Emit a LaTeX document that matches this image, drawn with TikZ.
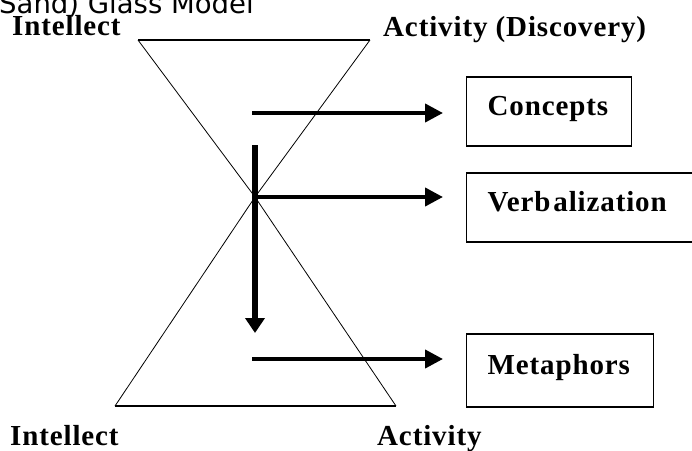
\documentclass[tikz,border=0pt]{standalone}
\usepackage{fontspec}
\setmainfont{Liberation Serif}
\newfontfamily\lblfont[LetterSpace=3]{Liberation Serif}
\newfontfamily\titlefont{DejaVu Sans}
\usetikzlibrary{arrows.meta}
\begin{document}
\begin{tikzpicture}[x=1pt,y=-1pt,
  lbl/.style={font=\lblfont\bfseries\fontsize{29}{31}\selectfont, inner sep=0pt},
  box/.style={draw, line width=1.3pt, anchor=west, inner xsep=21pt, inner ysep=0pt,
    text height=18pt, text depth=10pt, align=left,
    font=\lblfont\bfseries\fontsize{29}{31}\selectfont},
  glass/.style={line width=0.8pt},
  rim/.style={line width=1.4pt},
  arr/.style={line width=4pt, -{Triangle[length=18pt,width=18pt]}},
  varr/.style={line width=5.5pt, -{Triangle[length=15pt,width=19pt]}}
]
\useasboundingbox (0,0) rectangle (692,450);
\clip (0,0) rectangle (692,450);
% title (cut off at top)
\node[font=\titlefont\fontsize{27.5}{29}\selectfont, anchor=base west, inner sep=0pt] (title) at (-1,13) {Sand) Glass Model};
% hourglass
\coordinate (tl) at (138,40);
\coordinate (tr) at (370,40);
\coordinate (bl) at (115,406);
\coordinate (br) at (396,406);
\coordinate (x) at (255,197);
\draw[rim] (tl) -- (tr);
\draw[rim] (bl) -- (br);
\draw[glass] (tl) -- (x) -- (br);
\draw[glass] (tr) -- (x) -- (bl);
% labels
\node[lbl, anchor=base west] (il) at (12,35) {Intellect};
\node[lbl, anchor=base west] (ad) at (383,36) {Activity (Discovery)};
\node[lbl, anchor=base west] (ib) at (10,445) {Intellect};
\node[lbl, anchor=base west] (ab) at (377,445) {Activity};
% boxes
\node[box, minimum height=69pt, text width=123pt] (concepts) at (466,111.5) {Concepts};
\node[box, minimum height=69pt, text width=212pt] (verb) at (466,207.5) {Verb\kern3pt alization};
\node[box, minimum height=73pt, text width=145pt] (meta) at (466,370.5) {Metaphors};
% arrows
\coordinate (a1) at (252,113);
\coordinate (a2) at (x);
\coordinate (a3) at (252,359);
\coordinate (v1) at (255,145);
\coordinate (v2) at (255,333);
\draw[arr, shorten >=23pt] (a1) -- (a1 -| concepts.west);
\draw[arr, shorten >=23pt] (a2) -- (a2 -| verb.west);
\draw[arr, shorten >=23pt] (a3) -- (a3 -| meta.west);
\draw[varr] (v1) -- (v2);
\end{tikzpicture}
\end{document}
